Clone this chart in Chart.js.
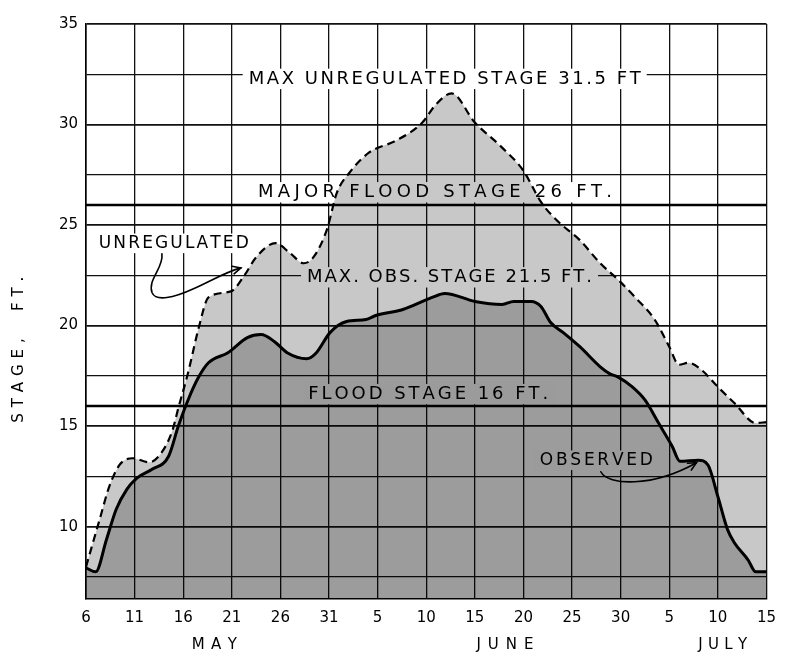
<!DOCTYPE html>
<html>
<head>
<meta charset="utf-8">
<script src="https://cdn.jsdelivr.net/npm/chart.js@4.4.1/dist/chart.umd.min.js"></script>
<style>
  html, body { margin: 0; padding: 0; background: #fff; }
  canvas { display: block; }
</style>
</head>
<body>
<canvas id="stageChart" width="786" height="653"></canvas>
<script>
// Day numbers are counted from May 6 (May 6 = 0, June 5 = 30, July 5 = 60).
const tickDayLabels = ['6', '11', '16', '21', '26', '31', '5', '10', '15', '20', '25', '30', '5', '10', '15'];
const monthNames = ['MAY', 'JUNE', 'JULY'];
const monthCenterDays = [13.2, 43.1, 65.5];
const gridStages = [7.5, 10, 12.5, 15, 17.5, 20, 22.5, 25, 27.5, 30, 32.5, 35];

// Unregulated (computed) stage, ft
const unregulatedDays = [0, 1.4, 2.4, 3.5, 4.8, 6.5, 7.8, 8.9, 9.5, 10.5, 11.6, 12.6, 14.9, 16.3, 17.5, 19.5, 21, 22.4, 23.4, 24.8, 25.8, 27.1, 29.1, 31.9, 34.6, 36, 37.6, 40, 42.7, 45, 46.8, 48.4, 50.8, 52.9, 54.7, 56.5, 58.5, 60, 61, 62, 63.3, 65, 66.7, 68.9, 70];
const unregulatedStage = [8.0, 10.35, 12.0, 13.1, 13.4, 13.2, 13.7, 14.8, 15.9, 17.65, 19.9, 21.4, 21.7, 22.5, 23.4, 24.1, 23.6, 23.1, 23.4, 24.8, 26.6, 27.6, 28.6, 29.2, 30.1, 31.0, 31.55, 30.1, 28.9, 27.7, 26.15, 25.25, 24.25, 23.1, 22.3, 21.4, 20.3, 18.95, 18.05, 18.15, 17.8, 16.95, 16.15, 15.15, 15.2];

// Observed stage, ft
const observedDays = [0, 1, 2.1, 3.1, 4.2, 5.2, 6.8, 8.5, 9.5, 10.5, 11.6, 12.6, 14.6, 16.6, 18, 19.4, 20.7, 22.7, 23.7, 25.1, 26.8, 28.8, 29.8, 32.6, 35.6, 36.9, 40, 42.8, 44, 45.8, 46.8, 47.8, 49.1, 50.8, 52.9, 53.9, 54.7, 56.2, 57.5, 58.9, 60.3, 61.1, 63, 64, 65, 66, 66.7, 68.1, 68.9, 70];
const observedStage = [7.95, 7.75, 9.35, 10.85, 11.85, 12.4, 12.85, 13.5, 15.0, 16.3, 17.45, 18.15, 18.65, 19.4, 19.55, 19.2, 18.65, 18.35, 18.65, 19.65, 20.2, 20.3, 20.5, 20.8, 21.4, 21.6, 21.2, 21.05, 21.2, 21.2, 20.95, 20.15, 19.65, 18.95, 17.95, 17.6, 17.45, 16.95, 16.3, 15.15, 14.0, 13.25, 13.3, 13.05, 11.5, 9.85, 9.2, 8.35, 7.75, 7.75];

const floodStage = 16;
const majorFloodStage = 26;
const maxUnregulatedStage = 31.5;
const maxObservedStage = 21.5;

const FONT = '"DejaVu Sans", "Liberation Sans", sans-serif';

const toPoints = (xs, ys) => xs.map((x, i) => ({ x: x, y: ys[i] }));

// Text labels placed in data coordinates (day, stage); width is the lettered span in px
const noteLabels = [
  { text: 'MAX UNREGULATED STAGE ' + maxUnregulatedStage + ' FT', day: 36.9, stage: 32.27, width: 392, size: 18 },
  { text: 'MAJOR FLOOD STAGE ' + majorFloodStage + ' FT.', day: 35.9, stage: 26.63, width: 354, size: 18 },
  { text: 'MAX. OBS. STAGE ' + maxObservedStage + ' FT.', day: 37.4, stage: 22.4, width: 285, size: 18 },
  { text: 'FLOOD STAGE ' + floodStage + ' FT.', day: 35.2, stage: 16.59, width: 240, size: 18 },
  { text: 'UNREGULATED', day: 9.03, stage: 24.09, width: 150, size: 17 },
  { text: 'OBSERVED', day: 52.5, stage: 13.3, width: 113, size: 17 }
];

// Leader arrows (bezier control points in day/stage units)
const leaderArrows = [
  { start: [7.81, 23.57], curves: [
      [[8.01, 22.87], [6.29, 22.28], [6.80, 21.63]],
      [[7.20, 21.18], [9.03, 21.38], [11.06, 21.83]],
      [[13.09, 22.28], [14.41, 22.67], [15.93, 22.87]]
    ] },
  { start: [52.96, 12.73], curves: [
      [[53.67, 12.04], [58.23, 11.94], [62.8, 13.18]]
    ] }
];

function charWidths(ctx, text) {
  return Array.from(text).map(c => ctx.measureText(c).width);
}

function drawSpaced(ctx, text, cx, cy, targetW) {
  const chars = Array.from(text);
  const ws = charWidths(ctx, text);
  const sum = ws.reduce((a, b) => a + b, 0);
  const sp = chars.length > 1 ? (targetW - sum) / (chars.length - 1) : 0;
  let x = cx - targetW / 2;
  ctx.textAlign = 'left';
  ctx.textBaseline = 'middle';
  chars.forEach((c, i) => {
    ctx.fillText(c, x, cy);
    x += ws[i] + sp;
  });
}

const annotationPlugin = {
  id: 'stageNotes',
  beforeDatasetsDraw(chart) {
    // clear the grid behind each lettered note
    const { ctx, scales: { x, y } } = chart;
    ctx.save();
    ctx.fillStyle = '#ffffff';
    noteLabels.forEach(l => {
      const cx = x.getPixelForValue(l.day);
      const cy = y.getPixelForValue(l.stage);
      const h = l.size * 0.8;
      ctx.fillRect(cx - l.width / 2 - 6, cy - h / 2 - 3, l.width + 12, h + 6);
    });
    ctx.restore();
  },
  afterDatasetsDraw(chart) {
    const { ctx, chartArea, scales: { x, y } } = chart;
    ctx.save();
    // flood stage reference lines
    ctx.strokeStyle = '#000';
    ctx.lineWidth = 2.6;
    [floodStage, majorFloodStage].forEach(v => {
      const py = y.getPixelForValue(v);
      ctx.beginPath();
      ctx.moveTo(chartArea.left, py);
      ctx.lineTo(chartArea.right, py);
      ctx.stroke();
    });

    // lettered notes
    ctx.fillStyle = '#000';
    noteLabels.forEach(l => {
      ctx.font = l.size + 'px ' + FONT;
      drawSpaced(ctx, l.text, x.getPixelForValue(l.day), y.getPixelForValue(l.stage), l.width);
    });

    // leader arrows
    ctx.lineWidth = 1.6;
    ctx.lineCap = 'round';
    leaderArrows.forEach(a => {
      const P = p => [x.getPixelForValue(p[0]), y.getPixelForValue(p[1])];
      let [sx, sy] = P(a.start);
      ctx.beginPath();
      ctx.moveTo(sx, sy);
      let prev = [sx, sy];
      let last = [sx, sy];
      a.curves.forEach(c => {
        const c1 = P(c[0]), c2 = P(c[1]), e = P(c[2]);
        ctx.bezierCurveTo(c1[0], c1[1], c2[0], c2[1], e[0], e[1]);
        prev = c2; last = e;
      });
      ctx.stroke();
      // arrow head
      const ang = Math.atan2(last[1] - prev[1], last[0] - prev[0]);
      const len = 9;
      ctx.beginPath();
      ctx.moveTo(last[0] - len * Math.cos(ang - 0.45), last[1] - len * Math.sin(ang - 0.45));
      ctx.lineTo(last[0], last[1]);
      ctx.lineTo(last[0] - len * Math.cos(ang + 0.45), last[1] - len * Math.sin(ang + 0.45));
      ctx.stroke();
    });
    ctx.restore();
  },
  afterDraw(chart) {
    const { ctx, chartArea, scales: { x, y } } = chart;
    ctx.save();
    ctx.fillStyle = '#000';
    // month names under the day ticks
    ctx.font = '15px ' + FONT;
    const monthWidths = [45, 57, 49];
    monthNames.forEach((m, i) => {
      drawSpaced(ctx, m, x.getPixelForValue(monthCenterDays[i]), chartArea.bottom + 46, monthWidths[i]);
    });
    // vertical axis title
    ctx.translate(19, y.getPixelForValue(18.8));
    ctx.rotate(-Math.PI / 2);
    ctx.font = '15px ' + FONT;
    drawSpaced(ctx, 'STAGE,  FT.', 0, 0, 146);
    ctx.restore();
  }
};

new Chart(document.getElementById('stageChart'), {
  type: 'line',
  data: {
    datasets: [
      {
        label: 'Observed',
        data: toPoints(observedDays, observedStage),
        borderColor: '#000',
        borderWidth: 3,
        backgroundColor: 'rgba(0,0,0,0.225)',
        fill: 'start',
        pointRadius: 0,
        cubicInterpolationMode: 'monotone'
      },
      {
        label: 'Unregulated',
        data: toPoints(unregulatedDays, unregulatedStage),
        borderColor: '#000',
        borderWidth: 2.2,
        borderDash: [8, 5],
        backgroundColor: 'rgba(0,0,0,0.216)',
        fill: 'start',
        pointRadius: 0,
        cubicInterpolationMode: 'monotone'
      }
    ]
  },
  options: {
    responsive: false,
    animation: false,
    devicePixelRatio: 1,
    layout: { padding: { top: 24, right: 10, left: 0, bottom: 0 } },
    plugins: { legend: { display: false }, tooltip: { enabled: false } },
    scales: {
      x: {
        type: 'linear',
        min: 0,
        max: 70,
        afterFit: s => { s.height = 54; },
        border: { display: true, color: '#000', width: 1.6 },
        grid: { color: '#111', lineWidth: 1.3, drawTicks: false },
        ticks: {
          stepSize: 5,
          autoSkip: false,
          maxRotation: 0,
          padding: 10,
          color: '#000',
          font: { family: FONT, size: 15 },
          callback: v => tickDayLabels[Math.round(v / 5)]
        }
      },
      y: {
        type: 'linear',
        min: 6.4,
        max: 35,
        afterFit: s => { s.width = 86; },
        afterBuildTicks: s => { s.ticks = gridStages.map(v => ({ value: v })); },
        border: { display: true, color: '#000', width: 1.6 },
        grid: {
          color: '#111',
          lineWidth: c => (c.tick && c.tick.value % 5 === 0 ? 1.8 : 1.3),
          drawTicks: false
        },
        ticks: {
          padding: 8,
          color: '#000',
          font: { family: FONT, size: 15 },
          callback: v => (v % 5 === 0 ? String(v) : '')
        }
      }
    }
  },
  plugins: [annotationPlugin]
});
</script>
</body>
</html>
